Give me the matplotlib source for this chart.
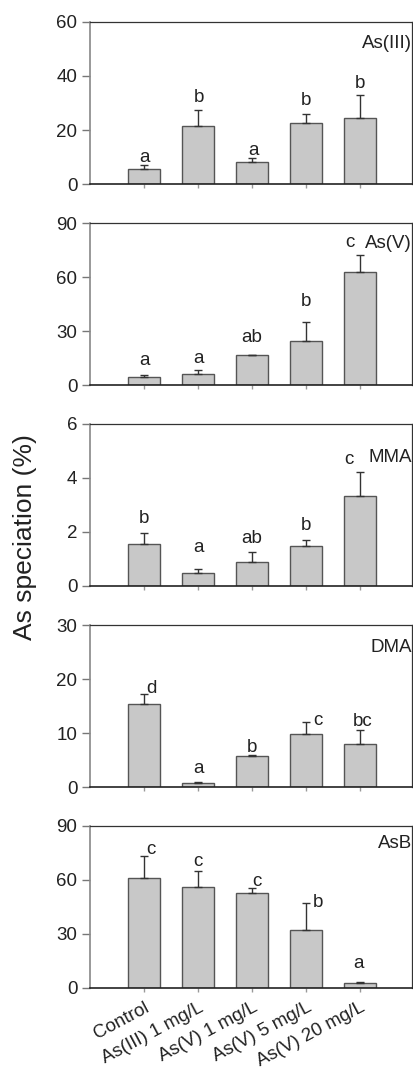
import matplotlib
matplotlib.use("Agg")
import matplotlib.pyplot as plt
import numpy as np

plt.rcParams['font.family'] = ['Liberation Sans', 'DejaVu Sans']

categories = ["Control", "As(III) 1 mg/L", "As(V) 1 mg/L", "As(V) 5 mg/L", "As(V) 20 mg/L"]

species = ["As(III)", "As(V)", "MMA", "DMA", "AsB"]

asiii_mean = [5.6, 21.4, 8.3, 22.6, 24.5]
asiii_err = [1.3, 5.9, 1.4, 3.4, 8.5]
asiii_letters = ["a", "b", "a", "b", "b"]

asv_mean = [4.5, 6.1, 16.4, 24.6, 62.6]
asv_err = [0.9, 2.3, 0.3, 10.2, 9.7]
asv_letters = ["a", "a", "ab", "b", "c"]

mma_mean = [1.56, 0.48, 0.88, 1.50, 3.35]
mma_err = [0.42, 0.16, 0.38, 0.20, 0.88]
mma_letters = ["b", "a", "ab", "b", "c"]

dma_mean = [15.3, 0.74, 5.8, 9.9, 8.0]
dma_err = [2.0, 0.18, 0.2, 2.1, 2.6]
dma_letters = ["d", "a", "b", "c", "bc"]

asb_mean = [61.2, 56.0, 52.9, 32.0, 2.6]
asb_err = [12.4, 8.9, 2.6, 15.0, 0.6]
asb_letters = ["c", "c", "c", "b", "a"]

ylims = [60, 90, 6, 30, 90]
yticks = [[0, 20, 40, 60], [0, 30, 60, 90], [0, 2, 4, 6], [0, 10, 20, 30], [0, 30, 60, 90]]

means = [asiii_mean, asv_mean, mma_mean, dma_mean, asb_mean]
errs = [asiii_err, asv_err, mma_err, dma_err, asb_err]
letters = [asiii_letters, asv_letters, mma_letters, dma_letters, asb_letters]

# letter offsets (pixels): dx, dy above error-bar top (baseline)
letter_dx = [[0, 1, 1, 0, 0], [0, 0, 0, 0, -10], [0, 0, 0, 0, -11], [7, 0, 0, 12, 3], [7, 0, 5, 12, -2]]
letter_dy = [[3, 8, 3, 9, 7], [10, 7, 13, 16, 8], [10, 17, 9, 10, 8], [1, 9, 3, -3, 4], [2, 5, 2, -4, 14]]
title_dy = [21, 20, 34, 23, 17]

W, H = 414, 1071
fig = plt.figure(figsize=(W / 100, H / 100), dpi=100)

panel_top = [22, 223, 424, 625, 826]
panel_h = 162
left, right = 90, 412

x = np.arange(len(categories))
fs = 13.5
for i in range(5):
    ax = fig.add_axes([left / W, 1 - (panel_top[i] + panel_h) / H, (right - left) / W, panel_h / H])
    ax.bar(x, means[i], width=0.6, color="#c8c8c8", edgecolor="#555555", linewidth=1.0, zorder=2)
    ax.errorbar(x, means[i], yerr=[np.zeros(5), errs[i]], fmt="none", ecolor="#333333",
                elinewidth=1.0, capsize=3, capthick=1.0, zorder=3)
    ax.set_xlim(-1.0, 4.96)
    ax.set_ylim(0, ylims[i])
    ax.set_yticks(yticks[i])
    ax.set_xticks(x)
    ax.tick_params(axis="y", direction="out", length=6, width=1, color="#777777",
                   labelsize=fs, labelcolor="#222222", pad=3)
    ax.tick_params(axis="x", direction="out", length=3, width=1, color="#999999")
    if i < 4:
        ax.set_xticklabels([])
    else:
        ax.set_xticklabels(categories, rotation=28, ha="right", rotation_mode="anchor",
                           fontsize=fs, color="#222222")
        ax.tick_params(axis="x", pad=5)
    ax.spines["left"].set_color("#888888")
    ax.spines["left"].set_linewidth(1.2)
    ax.spines["bottom"].set_color("#222222")
    ax.spines["bottom"].set_linewidth(1.2)
    ax.spines["top"].set_color("#333333")
    ax.spines["top"].set_linewidth(0.9)
    ax.spines["right"].set_color("#333333")
    ax.spines["right"].set_linewidth(0.9)
    for j in range(5):
        top = means[i][j] + errs[i][j]
        ax.annotate(letters[i][j], xy=(x[j], top), xytext=(letter_dx[i][j], letter_dy[i][j]),
                    textcoords="offset pixels", ha="center", va="baseline",
                    fontsize=fs, color="#222222", zorder=4)
    ax.annotate(species[i], xy=(1, 1), xycoords="axes fraction", xytext=(0, -title_dy[i]),
                textcoords="offset pixels", ha="right", va="center", fontsize=fs,
                color="#222222", annotation_clip=False)

fig.text(25 / W, 1 - 537 / H, "As speciation (%)", rotation=90, ha="center", va="center",
         fontsize=19, color="#222222")

fig.savefig("out.png", dpi=100)
